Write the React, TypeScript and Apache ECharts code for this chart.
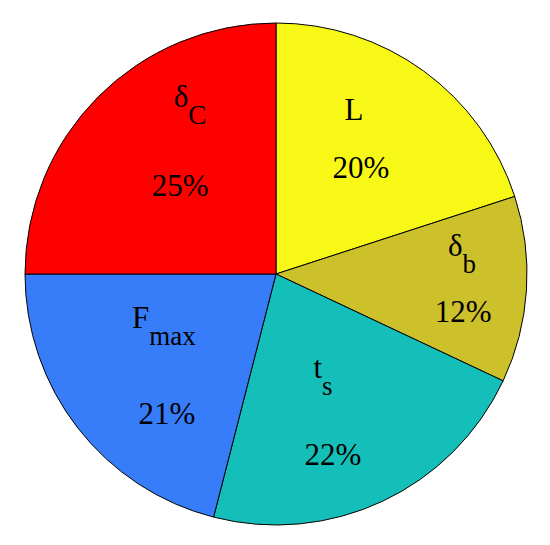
import React, { useEffect, useRef } from "react";
import * as echarts from "echarts";

// Slices, clockwise from 12 o'clock
const nameMain = ["L", "δ", "t", "F", "δ"];
const nameSub = ["", "b", "s", "max", "C"];
const percents = [20, 12, 22, 21, 25];
const colors = ["#F8F817", "#CCC02B", "#14BEB9", "#377DFA", "#FF0000"];

// label nudges from the library's inside-label anchor (dx, dy)
const nameNudge: [number, number][] = [
  [2.5, -61],
  [57.8, -18.1],
  [-7.7, -4.3],
  [-10.5, -16.8],
  [4.9, -68.1],
];
const pctNudge: [number, number][] = [
  [9.5, -3],
  [58.8, 29.9],
  [2.3, 64.7],
  [-7.5, 61.2],
  [-5.1, 1.9],
];

const FONT = "Liberation Serif";

export default function App() {
  const ref = useRef<HTMLDivElement>(null);
  useEffect(() => {
    if (!ref.current) return;
    const chart = echarts.init(ref.current, undefined, { renderer: "svg" });
    const data = percents.map((v, i) => ({
      value: v,
      name: nameMain[i] + nameSub[i],
      itemStyle: { color: colors[i] },
    }));
    chart.setOption({
      animation: false,
      backgroundColor: "#ffffff",
      series: [
        {
          type: "pie",
          center: [276, 274],
          radius: [0, 251],
          startAngle: 90,
          clockwise: true,
          avoidLabelOverlap: false,
          itemStyle: { borderColor: "#000000", borderWidth: 1 },
          emphasis: { disabled: true },
          data,
          label: {
            show: true,
            position: "inside",
            fontFamily: FONT,
            formatter: (p: any) => {
              const i = p.dataIndex;
              return `{n|${nameMain[i]}}` + (nameSub[i] ? `{s|${nameSub[i]}}` : "");
            },
            rich: {
              n: {
                fontFamily: FONT,
                fontSize: 31,
                lineHeight: 30,
                color: "#000",
                verticalAlign: "top",
              },
              s: {
                fontFamily: FONT,
                fontSize: 27,
                lineHeight: 68,
                color: "#000",
              },
            },
          },
          labelLine: { show: false },
          labelLayout: (p: any) => ({
            dx: nameNudge[p.dataIndex][0],
            dy: nameNudge[p.dataIndex][1],
          }),
        },
        {
          type: "pie",
          center: [276, 274],
          radius: [0, 251],
          startAngle: 90,
          clockwise: true,
          silent: true,
          avoidLabelOverlap: false,
          itemStyle: { color: "transparent", borderWidth: 0 },
          data: percents.map((v, i) => ({ value: v, name: "p" + i })),
          label: {
            show: true,
            position: "inside",
            formatter: "{c}%",
            fontFamily: FONT,
            fontSize: 31,
            color: "#000",
          },
          labelLine: { show: false },
          labelLayout: (p: any) => ({
            dx: pctNudge[p.dataIndex][0],
            dy: pctNudge[p.dataIndex][1],
          }),
        },
      ],
    });
    return () => chart.dispose();
  }, []);
  return (
    <div
      ref={ref}
      style={{ position: "fixed", left: 0, top: 0, width: 550, height: 545 }}
    />
  );
}
